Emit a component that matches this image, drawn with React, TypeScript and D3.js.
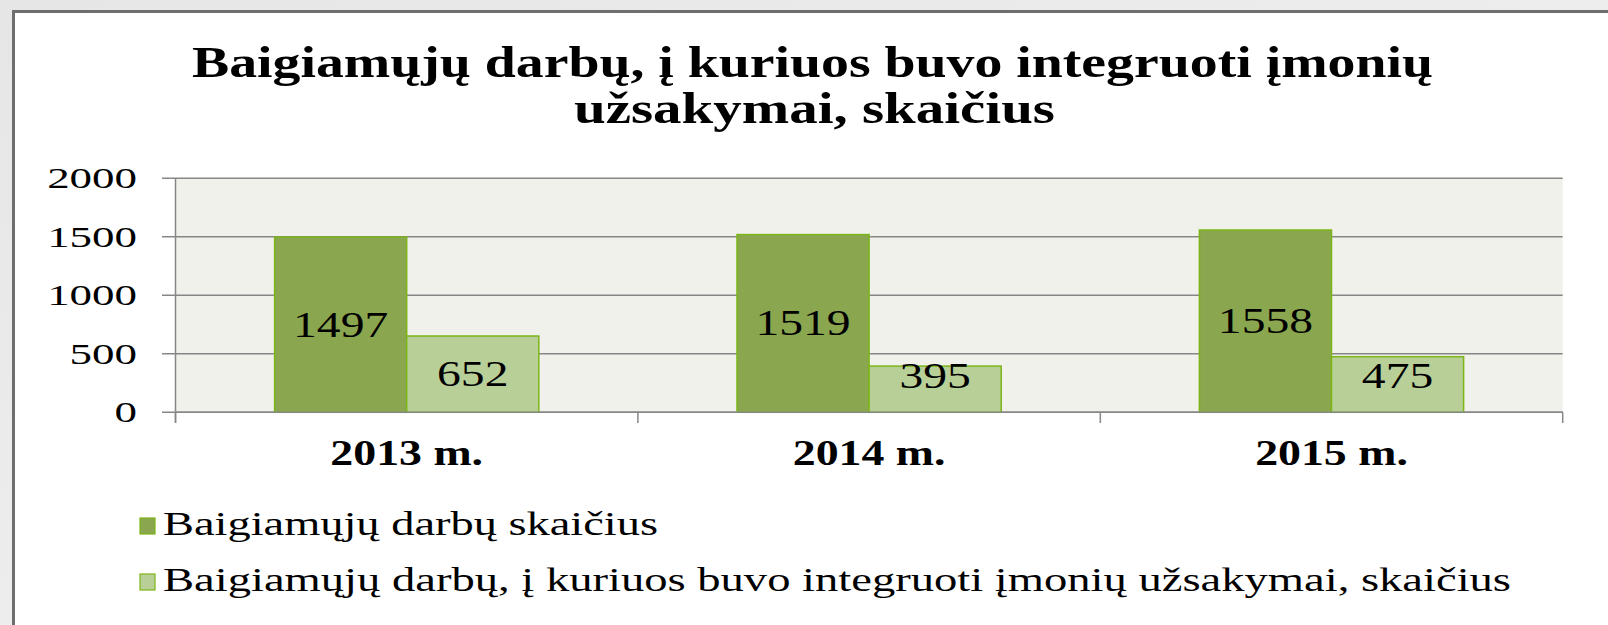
import React from "react";
import * as d3 from "d3";

const categories = ["2013 m.", "2014 m.", "2015 m."];
const seriesNames = [
  "Baigiamųjų darbų skaičius",
  "Baigiamųjų darbų, į kuriuos buvo integruoti įmonių užsakymai, skaičius",
];
const seriesTotal = [1497, 1519, 1558];
const seriesIntegrated = [652, 395, 475];
const yTicks = [0, 500, 1000, 1500, 2000];
const titleLines = ["Baigiamųjų darbų, į kuriuos buvo integruoti įmonių", "užsakymai, skaičius"];

const W = 1608;
const H = 625;
const plotL = 175.5;
const plotR = 1562.7;
const plotT = 178.3;
const plotB = 412.3;
const colors = ["#8aa64f", "#b9cf98"];
const barStroke = "#7cb518";
const gridColor = "#878787";
const FONT = "Liberation Serif, Tinos, Times New Roman, serif";
const fontStyle = { fontFamily: FONT };

export default function App() {
  const x0 = d3.scaleBand<string>().domain(categories).range([plotL, plotR]).padding(0);
  const x1 = d3
    .scaleBand<number>()
    .domain([0, 1])
    .range([0, x0.bandwidth()])
    .paddingInner(0)
    .paddingOuter(0.75);
  const y = d3.scaleLinear().domain([0, 2000]).range([plotB, plotT]);
  const series = [seriesTotal, seriesIntegrated];

  const boundaries = [...categories.map((c) => x0(c) as number), plotR];

  return (
    <div style={{ position: "fixed", left: 0, top: 0, width: W, height: H }}>
      <svg width={W} height={H} style={{ display: "block" }}>
        <defs>
          <linearGradient id="bgGrad" x1="0" y1="0" x2="1" y2="1">
            <stop offset="0" stopColor="#e6e6e6" />
            <stop offset="1" stopColor="#f4f4f4" />
          </linearGradient>
        </defs>
        <rect x={0} y={0} width={W} height={H} fill="url(#bgGrad)" />
        <rect x={13.5} y={11.5} width={W + 20} height={H + 20} fill="#ffffff" stroke="#6e6e6e" strokeWidth={3} />

        {titleLines.map((t, i) => (
          <text
            key={i}
            x={i === 0 ? 192 : 574}
            y={i === 0 ? 77 : 123}
            style={fontStyle}
            fontWeight="bold"
            fontSize={44}
            textLength={i === 0 ? 1241 : 481}
            lengthAdjust="spacingAndGlyphs"
            fill="#000"
          >
            {t}
          </text>
        ))}

        <rect x={plotL} y={plotT} width={plotR - plotL} height={plotB - plotT} fill="#eff1ea" />

        {yTicks.map((t) => (
          <g key={t}>
            <line x1={162} x2={plotR} y1={y(t)} y2={y(t)} stroke={gridColor} strokeWidth={1.5} />
            <text
              transform={`translate(137,${y(t) + 10}) scale(1.55,1)`}
              textAnchor="end"
              style={fontStyle}
              fontSize={29}
              fill="#000"
            >
              {t}
            </text>
          </g>
        ))}

        {categories.map((c, ci) =>
          series.map((s, si) => {
            const bx = (x0(c) as number) + (x1(si) as number);
            const bw = x1.bandwidth();
            const top = y(s[ci]);
            const center = (top + plotB) / 2;
            const baseline = Math.min(center + 12, plotB - 24);
            return (
              <g key={`${c}-${si}`}>
                <rect x={bx} y={top} width={bw} height={plotB - top} fill={colors[si]} stroke={barStroke} strokeWidth={1.5} />
                <text
                  transform={`translate(${bx + bw / 2},${baseline}) scale(1.36,1)`}
                  textAnchor="middle"
                  style={fontStyle}
                  fontSize={35}
                  fill="#000"
                >
                  {s[ci]}
                </text>
              </g>
            );
          })
        )}

        <line x1={plotL} x2={plotL} y1={plotT} y2={423} stroke={gridColor} strokeWidth={1.5} />
        <line x1={plotL} x2={plotR} y1={plotB} y2={plotB} stroke={gridColor} strokeWidth={1.5} />
        {boundaries.map((bx, i) => (
          <line key={i} x1={bx} x2={bx} y1={plotB} y2={423} stroke={gridColor} strokeWidth={1.5} />
        ))}

        {categories.map((c) => (
          <text
            key={c}
            transform={`translate(${(x0(c) as number) + x0.bandwidth() / 2},465) scale(1.31,1)`}
            textAnchor="middle"
            style={fontStyle}
            fontWeight="bold"
            fontSize={35}
            fill="#000"
          >
            {c}
          </text>
        ))}

        {seriesNames.map((n, i) => (
          <g key={n}>
            <rect x={140} y={i === 0 ? 518 : 574} width={15} height={16} fill={colors[i]} stroke={barStroke} strokeWidth={1.2} />
            <text
              x={163}
              y={i === 0 ? 535 : 591}
              style={fontStyle}
              fontSize={33}
              textLength={i === 0 ? 495 : 1348}
              lengthAdjust="spacingAndGlyphs"
              fill="#000"
            >
              {n}
            </text>
          </g>
        ))}
      </svg>
    </div>
  );
}
